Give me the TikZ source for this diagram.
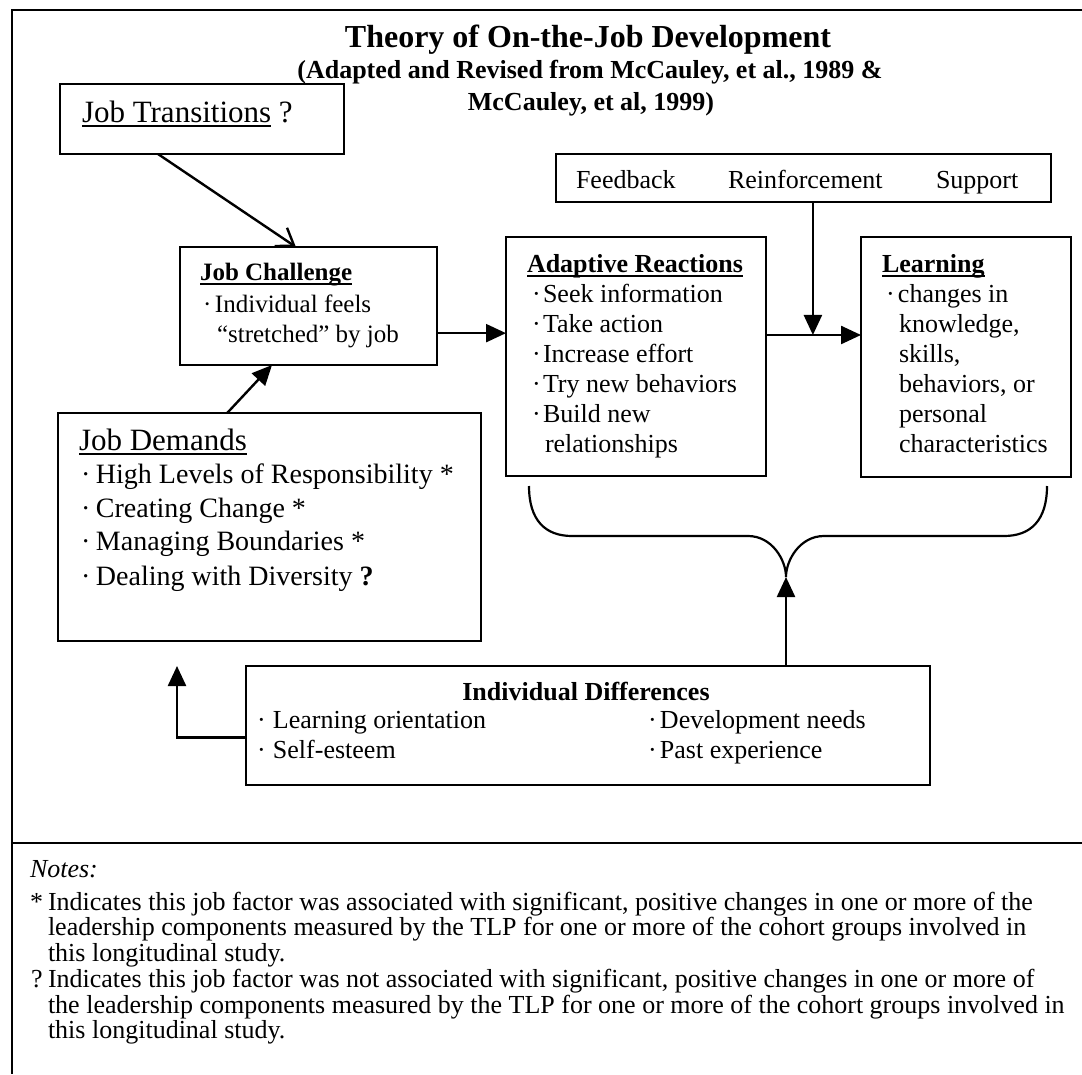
\documentclass[tikz,border=0pt]{standalone}
\usepackage{fontspec}
\setmainfont{Liberation Serif}
\usetikzlibrary{arrows.meta,calc}
\newsavebox{\myulbox}
\newcommand{\myul}[1]{\sbox{\myulbox}{#1}\rlap{\rule[-4.5pt]{\wd\myulbox}{1.6pt}}\usebox{\myulbox}}
\newcommand{\bul}[1]{\makebox[#1][l]{·}}
\begin{document}
\begin{tikzpicture}[x=1pt,y=-1pt,
  box/.style={draw, line width=2.2pt, inner sep=0pt, outer sep=0pt, anchor=north west},
  txt/.style={anchor=base west, inner sep=0pt, outer sep=0pt, font=\fontsize{26}{30}\selectfont},
  ttl/.style={anchor=base, inner sep=0pt, outer sep=0pt},
  arr/.style={line width=2.4pt, line join=miter, -{Triangle[length=20pt,width=18pt]}},
  openarr/.style={line width=2.4pt, -{Straight Barb[length=16pt,width=22pt,line width=2.4pt]}}]
\useasboundingbox (0,0) rectangle (1082,1074);
% outer frame and separator
\draw[line width=2pt] (1082,10) -- (12,10) -- (12,1074);
\draw[line width=2pt] (12,843) -- (1082,843);

% title
\node[ttl, font=\bfseries\fontsize{32}{36}\selectfont] (title) at (588,47) {Theory of On-the-Job Development};
\node[ttl, font=\bfseries\fontsize{26}{30}\selectfont] (sub1) at (590,78) {(Adapted and Revised from McCauley, et al., 1989 \&};
\node[ttl, font=\bfseries\fontsize{26}{30}\selectfont] (sub2) at (591,110) {McCauley, et al, 1999)};

% boxes
\node[box, minimum width=284pt, minimum height=70pt] (jt) at (60,84) {};
\node[box, minimum width=257pt, minimum height=118pt] (jc) at (180,247) {};
\node[box, minimum width=260pt, minimum height=239pt] (ar) at (506,237) {};
\node[box, minimum width=210pt, minimum height=240pt] (ln) at (861,237) {};
\node[box, minimum width=495pt, minimum height=48pt] (fb) at (556,154) {};
\node[box, minimum width=423pt, minimum height=228pt] (jd) at (58,413) {};
\node[box, minimum width=684pt, minimum height=119pt] (id) at (246,666) {};

% Job Transitions
\node[txt, font=\fontsize{31}{36}\selectfont] (jtt) at (82,122) {\myul{Job Transitions} ?};

% Job Challenge
\node[txt, font=\fontsize{25}{30}\selectfont\bfseries] (jct) at (200,280) {\myul{Job Challenge}};
\node[txt, font=\fontsize{25}{30}\selectfont] (jc1) at (203,312) {\bul{12pt}Individual feels};
\node[txt, font=\fontsize{25}{30}\selectfont] (jc2) at (217,342) {“stretched” by job};

% Adaptive Reactions
\node[txt, font=\fontsize{26}{30}\selectfont\bfseries] (art) at (527,272) {\myul{Adaptive Reactions}};
\node[txt] (ar1) at (532,302) {\bul{11pt}Seek information};
\node[txt] (ar2) at (532,332) {\bul{11pt}Take action};
\node[txt] (ar3) at (532,362) {\bul{11pt}Increase effort};
\node[txt] (ar4) at (532,392) {\bul{11pt}Try new behaviors};
\node[txt] (ar5) at (532,422) {\bul{11pt}Build new};
\node[txt] (ar6) at (545,452) {relationships};

% Learning
\node[txt, font=\fontsize{26}{30}\selectfont\bfseries] (lnt) at (882,272) {\myul{Learning}};
\node[txt] (ln1) at (886,302) {\bul{12pt}changes in};
\node[txt] (ln2) at (899,332) {knowledge,};
\node[txt] (ln3) at (899,362) {skills,};
\node[txt] (ln4) at (899,392) {behaviors, or};
\node[txt] (ln5) at (899,422) {personal};
\node[txt] (ln6) at (899,452) {characteristics};

% Feedback box texts
\node[txt] (fb1) at (576,188) {Feedback};
\node[txt] (fb2) at (728,188) {Reinforcement};
\node[txt] (fb3) at (936,188) {Support};

% Job Demands
\node[txt, font=\fontsize{31}{36}\selectfont] (jdt) at (79,450) {\myul{Job Demands}};
\node[txt, font=\fontsize{28}{32}\selectfont] (jd1) at (81,483) {\bul{15pt}High Levels of Responsibility *};
\node[txt, font=\fontsize{28}{32}\selectfont] (jd2) at (81,517) {\bul{15pt}Creating Change *};
\node[txt, font=\fontsize{28}{32}\selectfont] (jd3) at (81,550) {\bul{15pt}Managing Boundaries *};
\node[txt, font=\fontsize{28}{32}\selectfont] (jd4) at (81,585) {\bul{15pt}Dealing with Diversity \textbf{?}};

% Individual Differences
\node[ttl, font=\bfseries\fontsize{26}{30}\selectfont] (idt) at (586,700) {Individual Differences};
\node[txt] (id1) at (257,728) {\bul{16pt}Learning orientation};
\node[txt] (id2) at (257,758) {\bul{16pt}Self-esteem};
\node[txt] (id3) at (648,728) {\bul{12pt}Development needs};
\node[txt] (id4) at (648,758) {\bul{12pt}Past experience};

% Notes
\node[txt, font=\fontsize{26}{30}\selectfont\itshape] (notes) at (30,877) {Notes:};
\node[txt] (s1) at (30,910) {*};
\node[txt] (n1) at (48,910) {Indicates this job factor was associated with significant, positive changes in one or more of the};
\node[txt] (n2) at (48,935) {leadership components measured by the TLP for one or more of the cohort groups involved in};
\node[txt] (n3) at (48,961) {this longitudinal study.};
\node[txt] (s2) at (31,987) {?};
\node[txt] (n4) at (48,987) {Indicates this job factor was not associated with significant, positive changes in one or more of};
\node[txt] (n5) at (48,1013) {the leadership components measured by the TLP for one or more of the cohort groups involved in};
\node[txt] (n6) at (48,1038) {this longitudinal study.};

% connectors
\draw[openarr] ($(jt.south west)!0.345!(jt.south east)$) -- ($(jc.north west)!0.451!(jc.north east)$);
\draw[arr] ($(jd.north west)!0.40!(jd.north east)$) -- ($(jc.south west)!0.358!(jc.south east)$);
\coordinate (jcout) at ($(jc.north east)!0.73!(jc.south east)$);
\draw[arr] (jcout) -- (ar.west |- jcout);
\coordinate (arout) at ($(ar.north east)!0.41!(ar.south east)$);
\draw[arr] (arout) -- (ln.west |- arout);
\coordinate (fbout) at ($(fb.south west)!0.519!(fb.south east)$);
\coordinate (meet) at (fbout |- arout);
\draw[arr] (fbout) -- (meet);

% brace
\coordinate (cusp) at (786,577);
\draw[line width=2.2pt] (529,486) .. controls (529,520) and (545,536) .. (572,536) -- (748,536)
  .. controls (772,536) and (786,560) .. (cusp)
  .. controls (786,560) and (800,536) .. (824,536) -- (1004,536)
  .. controls (1031,536) and (1047,520) .. (1047,486);
\draw[arr] (cusp |- id.north) -- (cusp);

% individual differences to job demands
\coordinate (idl) at ($(id.north west)!0.60!(id.south west)$);
\coordinate (jdtip) at (177,666);
\draw[arr] (idl) -| (jdtip);
\end{tikzpicture}
\end{document}
